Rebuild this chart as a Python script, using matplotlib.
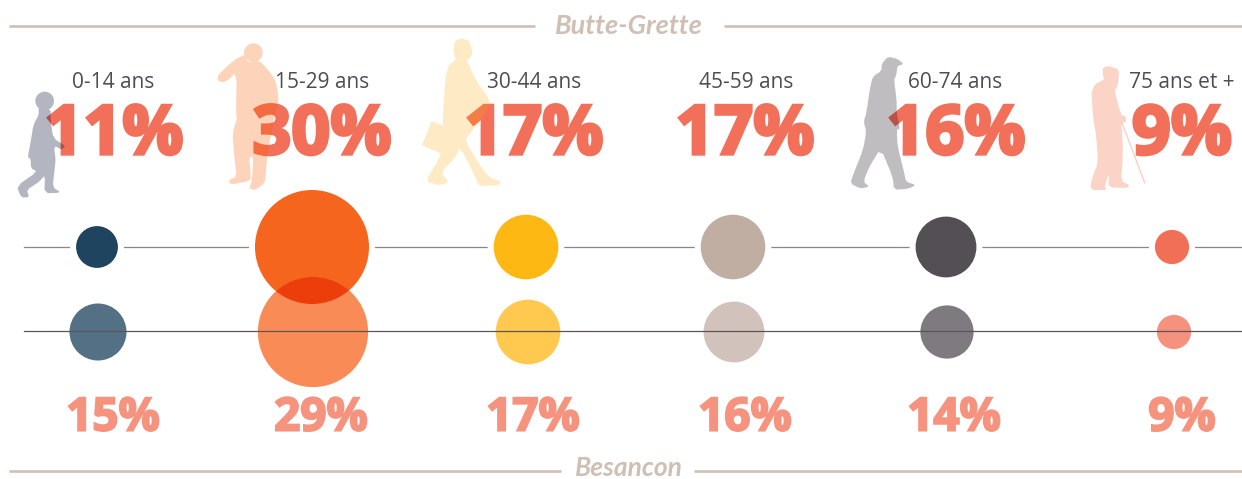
import math
import matplotlib
matplotlib.use("Agg")
import matplotlib.pyplot as plt
from matplotlib.patches import Circle, PathPatch
from matplotlib.path import Path
from matplotlib.colors import to_rgb
import matplotlib.patheffects as pe

# ---- data ----
age_groups = ["0-14 ans", "15-29 ans", "30-44 ans", "45-59 ans", "60-74 ans", "75 ans et +"]
butte_grette = [11, 30, 17, 17, 16, 9]
besancon = [15, 29, 17, 16, 14, 9]
area_names = ["Butte-Grette", "Besancon"]

# ---- styles / layout ----
top_colors = ["#1F445F", "#F5651D", "#FDB813", "#C1AEA3", "#544E55", "#F26F57"]
bot_colors = ["#537084", "#F98B56", "#FEC94E", "#D1C3BB", "#7F7A7F", "#F6917E"]
top_x = [97, 312, 526, 733, 946, 1172]
bot_x = [98, 313, 528, 734, 947, 1174]
label_x = [113, 322, 534, 746, 955, 1182]
big_x = [114, 322, 534, 745, 956, 1182]
small_x = [113, 321, 533, 745, 954, 1182]
PX_PER_PCT = 1.9
LABEL_FONT = ["Open Sans", "DejaVu Sans"]
TITLE_FONT = ["Lato", "Open Sans", "DejaVu Sans"]
TAN = "#CFBFB4"
RED = "#F2705A"
SALMON = "#F6937F"

fig = plt.figure(figsize=(12.42, 4.79), dpi=100, facecolor="white")
ax = fig.add_axes([0, 0, 1, 1])
ax.set_xlim(0, 1242)
ax.set_ylim(479, 0)
ax.axis("off")


def multiply_rgba(hex_color):
    """RGBA that behaves like a multiply layer when painted over other colours."""
    m = to_rgb(hex_color)
    a = 1 - min(m)
    return tuple((c - (1 - a)) / a for c in m) + (a,)


def smooth(pts, rounds=1, w=0.2):
    """Corner cutting, so the traced outlines are not angular."""
    for _ in range(rounds):
        out = []
        n = len(pts)
        for k in range(n):
            (x0, y0), (x1, y1) = pts[k], pts[(k + 1) % n]
            out.append((x0 + w * (x1 - x0), y0 + w * (y1 - y0)))
            out.append((x0 + (1 - w) * (x1 - x0), y0 + (1 - w) * (y1 - y0)))
        pts = out
    return pts


def head(cx, cy, r):
    return [(cx + r * math.cos(k * math.pi / 18), cy + r * math.sin(k * math.pi / 18)) for k in range(36)]


def figure_patch(outlines, dx, color):
    """One patch from several outlines, all wound alike, so overlaps are painted once."""
    verts, codes = [], []
    for pts, rounds in outlines:
        pts = [(x / 3 + dx, y / 3) for x, y in smooth(pts, rounds)]
        area = sum(pts[k][0] * pts[(k + 1) % len(pts)][1] - pts[(k + 1) % len(pts)][0] * pts[k][1]
                   for k in range(len(pts)))
        if area < 0:
            pts = pts[::-1]
        verts += pts + [pts[0]]
        codes += [Path.MOVETO] + [Path.LINETO] * (len(pts) - 1) + [Path.CLOSEPOLY]
    ax.add_patch(PathPatch(Path(verts, codes), fc=multiply_rgba(color), ec="none", zorder=4))


# rules and area names
for x0, x1, y in [(9, 535, 25.5), (724, 1242, 25.5), (9, 561, 471), (694, 1242, 471)]:
    ax.plot([x0, x1], [y, y], color=TAN, lw=1.9, solid_capstyle="butt", zorder=1)
ax.text(628.5, 26, area_names[0], color=TAN, fontsize=19.5, family=TITLE_FONT, style="italic",
        weight="bold", ha="center", va="center")
ax.text(629, 468.5, area_names[1], color=TAN, fontsize=19, family=TITLE_FONT, style="italic",
        weight="bold", ha="center", va="center")

# big values
for x, v in zip(big_x, butte_grette):
    ax.text(x, 154, f"{v}%", color=RED, fontsize=49, family=LABEL_FONT, weight="bold",
            ha="center", va="baseline", zorder=3,
            path_effects=[pe.withStroke(linewidth=2.4, foreground=RED, joinstyle="miter")])
for x, v in zip(small_x, besancon):
    ax.text(x, 430.5, f"{v}%", color=SALMON, fontsize=33, family=LABEL_FONT, weight="bold",
            ha="center", va="baseline", zorder=3,
            path_effects=[pe.withStroke(linewidth=1.5, foreground=SALMON, joinstyle="miter")])

# silhouettes (decorative, in 3x crop pixels)
child = [(116, 322), (152, 326), (152, 365), (160, 415), (197, 438), (185, 449), (162, 437), (167, 480),
         (163, 515), (158, 562), (184, 578), (133, 580), (135, 525), (118, 545), (80, 570), (88, 592),
         (63, 592), (50, 558), (112, 515), (93, 505), (92, 476), (83, 473), (93, 420), (100, 375), (116, 345)]
youth = [(733, 165), (705, 178), (652, 226), (656, 245), (678, 246), (710, 215), (708, 345), (712, 352),
         (697, 400), (703, 470), (710, 530), (686, 540), (692, 554), (752, 542), (752, 520), (747, 470),
         (760, 470), (756, 540), (748, 566), (765, 570), (792, 552), (797, 530), (802, 460), (826, 340),
         (837, 300), (827, 240), (792, 195), (775, 182), (745, 188), (735, 170)]
walker = [(130, 150), (135, 122), (155, 115), (178, 122), (188, 158), (183, 172), (170, 180), (177, 195),
          (197, 240), (242, 303), (228, 335), (205, 370), (180, 400), (165, 420), (200, 480), (234, 530),
          (274, 545), (266, 556), (205, 558), (198, 535), (150, 440), (138, 470), (92, 518), (118, 547),
          (85, 556), (46, 544), (85, 480), (100, 440), (98, 350), (107, 230), (116, 195), (138, 180), (133, 165)]
case = [(65, 363), (152, 398), (125, 474), (36, 436)]
senior = [(180, 190), (198, 170), (225, 176), (246, 192), (226, 198), (223, 225), (216, 240), (224, 300),
          (224, 340), (234, 385), (224, 390), (227, 440), (247, 520), (252, 545), (282, 555), (260, 566),
          (216, 570), (212, 530), (176, 445), (142, 500), (124, 545), (142, 560), (115, 566), (85, 550),
          (93, 525), (123, 450), (133, 395), (125, 365), (133, 340), (143, 270), (152, 230), (178, 213)]
elder = [(842, 203), (860, 198), (892, 208), (887, 260), (877, 270), (897, 345), (912, 350), (912, 367),
         (897, 367), (902, 420), (902, 480), (897, 543), (922, 555), (917, 564), (858, 562), (862, 520),
         (847, 560), (857, 570), (803, 570), (813, 525), (828, 490), (823, 410), (813, 350), (808, 280),
         (818, 253), (848, 238), (842, 225)]

figure_patch([(child, 1), (head(134, 303, 28), 0)], 0, "#B3B5C0")
figure_patch([(youth, 1), (head(760, 158, 28), 0)], 0, "#FED3B9")
figure_patch([(walker, 1), (case, 0)], 410, "#FEEBC6")
figure_patch([(senior, 1)], 822, "#C1BDC0")
figure_patch([(elder, 1)], 822, "#FBD4C7")
ax.plot([1122, 1144.7], [123, 182.7], color=multiply_rgba("#FBD4C7"), lw=1.1, zorder=4)

# age labels
for x, name in zip(label_x, age_groups):
    ax.text(x, 87.5, name, color="#514B52", fontsize=15, family=LABEL_FONT,
            ha="center", va="baseline", zorder=5)

# rows of circles: radius proportional to the percentage
ax.plot([24, 1242], [247, 247], color="#8A8688", lw=0.9, zorder=6)
for x, v, col in zip(top_x, butte_grette, top_colors):
    ax.add_patch(Circle((x, 247), v * PX_PER_PCT + 6, fc="white", ec="none", zorder=6.5))
    ax.add_patch(Circle((x, 247), v * PX_PER_PCT, fc=col, ec="none", zorder=7))
for x, v, col in zip(bot_x, besancon, bot_colors):
    ax.add_patch(Circle((x, 332), v * PX_PER_PCT, fc=col, ec="none", zorder=8))

# darker lens where the two largest circles overlap
i = 1
lens = Circle((top_x[i], 247), butte_grette[i] * PX_PER_PCT, fc="#EC3E0A", ec="none", zorder=9)
clip = Circle((bot_x[i], 332), besancon[i] * PX_PER_PCT, transform=ax.transData)
ax.add_patch(lens)
lens.set_clip_path(clip)

ax.plot([24, 1242], [331, 331], color="#5A5559", lw=0.9, zorder=10)

fig.savefig("out.png", dpi=100, facecolor="white")
